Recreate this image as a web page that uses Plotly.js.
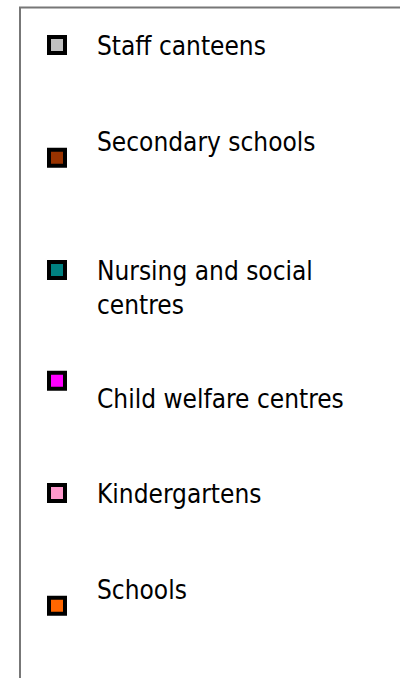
<!DOCTYPE html>
<html><head><meta charset="utf-8">
<script src="https://cdn.plot.ly/plotly-3.0.1.min.js"></script>
<style>html,body{margin:0;padding:0;background:#fff;overflow:hidden}#chart{width:400px;height:678px}</style>
</head><body><div id="chart"></div>
<script>
// ---- data ----
const categories = ["Staff canteens", "Secondary schools", "Nursing and social centres", "Child welfare centres", "Kindergartens", "Schools"];
const colors = ["#c0c0c0", "#993300", "#008080", "#ff00ff", "#ff99cc", "#ff6600"];

// ---- layout settings (pixels in the 400x678 page) ----
const W = 400, H = 678;
const entryCenterY = [45, 158, 287, 381, 493, 606];
const entryValign = ["middle", "middle", "top", "middle", "middle", "middle"];
const entryLabel = [
  s => s,
  s => s + "<br> ",
  s => s.replace(" social ", " social<br>"),
  s => "<br>" + s,
  s => s,
  s => s + "<br> "
];
const FONT = {family: "'DejaVu Sans Condensed', 'DejaVu Sans', sans-serif", size: 26, color: "#000"};

const traces = categories.map((c, i) => ({
  type: "scatter",
  mode: "markers",
  x: [null], y: [null],
  name: entryLabel[i](c),
  legend: i === 0 ? "legend" : "legend" + (i + 1),
  hoverinfo: "skip",
  marker: {symbol: "square", size: 16, color: colors[i], line: {color: "#000", width: 4}}
}));

const layout = {
  width: W, height: H,
  margin: {l: 0, r: 0, t: 0, b: 0},
  paper_bgcolor: "#fff", plot_bgcolor: "#fff",
  showlegend: true,
  xaxis: {visible: false, range: [0, 1]},
  yaxis: {visible: false, range: [0, 1]},
  shapes: [{
    type: "rect", xref: "paper", yref: "paper",
    x0: 20 / W, x1: 1.2, y0: 1 - 7.5 / H, y1: -0.2,
    line: {color: "#777", width: 2}, fillcolor: "rgba(0,0,0,0)"
  }]
};
categories.forEach((c, i) => {
  const key = i === 0 ? "legend" : "legend" + (i + 1);
  layout[key] = {
    x: 17 / W, xanchor: "left",
    y: 1 - entryCenterY[i] / H, yanchor: "middle",
    bgcolor: "rgba(0,0,0,0)", borderwidth: 0,
    font: FONT, valign: entryValign[i],
    itemwidth: 70,
    itemclick: false, itemdoubleclick: false
  };
});

Plotly.newPlot("chart", traces, layout, {displayModeBar: false, staticPlot: true});
</script>
</body></html>
